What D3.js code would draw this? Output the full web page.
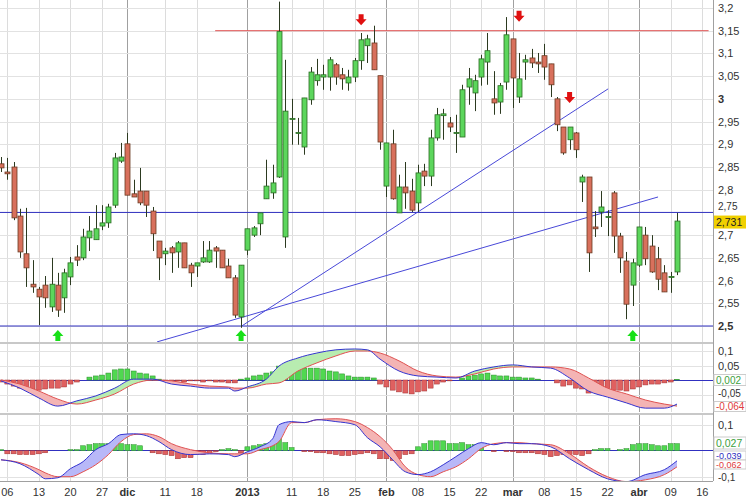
<!DOCTYPE html>
<html><head><meta charset="utf-8">
<script src="https://cdn.jsdelivr.net/npm/d3@7"></script>
<style>body{margin:0;background:#fff}svg{display:block;font-family:'Liberation Sans',Arial,sans-serif}</style>
</head><body>
<script>
// price candles, one per trading day from 2012-11-05
const opens  = [2.857,2.839,2.850,2.742,2.659,2.592,2.581,2.590,2.542,2.590,2.562,2.608,2.652,2.650,2.694,2.690,2.720,2.727,2.766,2.863,2.901,2.791,2.797,2.797,2.753,2.687,2.659,2.672,2.663,2.683,2.634,2.632,2.641,2.641,2.672,2.667,2.632,2.606,2.520,2.667,2.700,2.725,2.780,2.793,2.828,2.696,2.956,2.925,2.894,2.998,3.040,3.048,3.048,3.075,3.053,3.035,3.048,3.084,3.117,3.123,3.051,2.808,2.901,2.749,2.806,2.797,2.771,2.841,2.830,2.914,2.963,2.947,2.925,2.916,3.026,3.013,3.048,3.081,3.000,2.993,3.037,3.132,3.004,3.081,3.090,3.081,3.095,3.077,3.000,2.938,2.910,2.925,2.817,2.828,2.718,2.751,2.740,2.793,2.698,2.643,2.590,2.634,2.700,2.676,2.648,2.617,2.608,2.619]
const highs  = [2.872,2.870,2.861,2.758,2.760,2.645,2.586,2.610,2.650,2.617,2.626,2.652,2.678,2.714,2.742,2.766,2.766,2.769,2.881,2.903,2.925,2.822,2.848,2.797,2.762,2.687,2.672,2.676,2.687,2.683,2.639,2.639,2.687,2.687,2.676,2.667,2.648,2.612,2.634,2.714,2.720,2.749,2.866,2.855,3.214,3.086,3.000,2.958,3.002,3.070,3.088,3.075,3.092,3.079,3.068,3.064,3.090,3.145,3.141,3.161,3.051,2.903,2.932,2.833,2.861,2.824,2.855,2.857,2.932,2.980,2.978,2.960,2.965,3.031,3.068,3.053,3.097,3.145,3.061,3.035,3.180,3.132,3.101,3.097,3.110,3.101,3.121,3.077,3.004,2.938,2.938,2.927,2.833,2.828,2.753,2.797,2.755,2.797,2.705,2.663,2.648,2.718,2.718,2.700,2.674,2.634,2.619,2.749]
const lows   = [2.839,2.822,2.733,2.650,2.586,2.573,2.502,2.540,2.531,2.520,2.529,2.590,2.632,2.645,2.665,2.690,2.711,2.716,2.760,2.859,2.788,2.784,2.766,2.740,2.665,2.601,2.634,2.617,2.628,2.628,2.586,2.608,2.639,2.639,2.628,2.628,2.606,2.518,2.496,2.656,2.696,2.700,2.780,2.780,2.826,2.672,2.899,2.899,2.877,2.987,3.029,3.020,3.018,3.031,3.020,3.018,3.037,3.064,3.079,3.064,2.888,2.784,2.778,2.749,2.758,2.751,2.751,2.808,2.808,2.908,2.910,2.927,2.881,2.916,2.987,2.973,3.029,3.031,2.965,2.967,3.020,2.980,2.991,3.042,3.068,3.057,3.042,3.004,2.929,2.877,2.888,2.870,2.773,2.619,2.696,2.718,2.698,2.661,2.617,2.515,2.544,2.630,2.634,2.617,2.579,2.575,2.573,2.612]
const closes = [2.848,2.835,2.738,2.663,2.628,2.586,2.564,2.562,2.592,2.535,2.617,2.639,2.645,2.696,2.709,2.714,2.727,2.762,2.870,2.872,2.788,2.784,2.771,2.766,2.703,2.650,2.665,2.661,2.683,2.628,2.617,2.639,2.650,2.667,2.665,2.628,2.606,2.524,2.634,2.714,2.716,2.749,2.808,2.815,3.148,2.973,2.957,2.926,3.002,3.059,3.053,3.053,3.086,3.048,3.044,3.048,3.084,3.130,3.132,3.064,2.905,2.903,2.780,2.806,2.793,2.755,2.837,2.830,2.914,2.965,2.967,2.938,2.926,3.020,3.044,3.040,3.088,3.106,2.991,3.029,3.141,3.046,3.044,3.086,3.079,3.077,3.070,3.031,2.943,2.881,2.938,2.888,2.828,2.661,2.714,2.762,2.741,2.698,2.650,2.548,2.639,2.718,2.648,2.619,2.603,2.575,2.609,2.731]

const holidays = ['2012-12-25','2012-12-26','2013-01-01','2013-03-29','2013-04-01']
const tickDates = ['2012-11-06','2012-11-13','2012-11-20','2012-11-27','2012-12-03','2012-12-11','2012-12-18','2013-01-02','2013-01-11','2013-01-18','2013-01-25','2013-02-01','2013-02-08','2013-02-15','2013-02-22','2013-03-01','2013-03-08','2013-03-15','2013-03-22','2013-04-02','2013-04-09','2013-04-16']
const tickLabels = ['06','13','20','27','dic','11','18','2013','11','18','25','feb','08','15','22','mar','08','15','22','abr','09','16']
const monthTicks = ['dic','2013','feb','mar','abr']

const priceTicks = [3.2,3.15,3.1,3.05,3,2.95,2.9,2.85,2.8,2.75,2.7,2.65,2.6,2.55,2.5]
// drawn lines: [startDay, startPrice, endDay, endPrice]
const hLines = [[33.9,3.15,112,3.15,'#e05050'],[-1,2.75,113,2.75,'#3030c0'],[-1,2.5,113,2.5,'#3030c0']]
const trendLines = [[24.7,2.465,104,2.784],[38.1,2.5,96.1,3.022]]
const upArrows = [[9,2.491],[38,2.491],[100,2.491]]
const downArrows = [[57,3.162],[82,3.170],[90,2.991]]

// MACD panel
const macdHist = [-0.007,-0.014,-0.021,-0.028,-0.031,-0.031,-0.035,-0.031,-0.028,-0.028,-0.024,-0.014,-0.007,0,
 0.010,0.014,0.017,0.024,0.035,0.038,0.038,0.031,0.024,0.021,0.014,0.003,-0.003,
 -0.003,-0.003,-0.007,-0.003,-0.003,-0.007,-0.003,-0.007,-0.007,-0.010,-0.010,
 0.003,0.007,0.014,0.017,0.024,0.028,0.048,0.055,0.052,0.045,0.041,0.041,0.041,0.038,0.031,0.028,0.021,0.014,
 0.010,0.010,0.010,0.007,
 -0.014,-0.024,-0.035,-0.041,-0.045,-0.048,-0.041,-0.038,-0.028,-0.014,-0.007,-0.003,0,
 0.007,0.014,0.017,0.021,0.024,0.017,0.014,0.014,0.010,0.010,0.007,0.007,0.003,0,0,
 -0.010,-0.021,-0.017,-0.028,-0.031,-0.045,-0.041,-0.038,-0.035,-0.035,-0.035,-0.038,-0.031,-0.024,-0.017,-0.014,-0.014,-0.010,-0.007,0.002]
const macdDays = [0,3,6,9,12,15,18,21,24,27,30,33,36,37,39,42,44,47,50,53,56,58,60,63,66,69,72,75,78,81,84,87,90,93,96,99,102,105,107]
const macdLine = [-0.003,-0.028,-0.062,-0.090,-0.072,-0.055,-0.028,0.003,0.003,-0.014,-0.021,-0.028,-0.028,-0.038,-0.024,0.003,0.048,0.076,0.093,0.104,0.107,0.104,0.072,0.031,0.014,0.010,0.007,0.031,0.045,0.052,0.045,0.041,0.007,-0.038,-0.059,-0.079,-0.097,-0.097,-0.083]
const macdSignal = [0,-0.014,-0.038,-0.066,-0.083,-0.069,-0.048,-0.014,0,-0.003,-0.014,-0.021,-0.024,-0.028,-0.028,-0.014,-0.010,0.031,0.059,0.083,0.100,0.100,0.093,0.066,0.031,0.014,0.010,0.021,0.038,0.045,0.045,0.045,0.038,0.007,-0.028,-0.048,-0.069,-0.083,-0.090]

// second oscillator
const oscHist = [0.004,-0.012,-0.012,-0.015,-0.015,-0.015,-0.012,-0.008,0,0,0,0.004,0.004,
 0.019,0.023,0.027,0.027,0.027,0.027,0.027,0.023,0.023,0.019,
 0,-0.008,-0.012,-0.015,-0.019,-0.031,-0.027,-0.027,-0.015,-0.015,-0.012,-0.004,
 0.004,0.008,0.004,-0.008,
 0.015,0.019,0.023,0.027,0.023,0.046,0.031,0.012,0,
 -0.004,-0.004,-0.008,-0.008,-0.012,-0.015,-0.019,-0.019,-0.015,-0.012,-0.008,-0.012,
 -0.031,-0.031,-0.038,-0.031,-0.015,-0.012,
 0.015,0.027,0.038,0.038,0.038,0.027,0.027,0.031,0.023,0.023,0.019,0,
 -0.004,0,-0.004,-0.004,-0.008,-0.008,-0.008,-0.012,-0.015,-0.023,-0.019,-0.015,-0.015,-0.015,-0.019,-0.012,
 0.004,0.008,0.008,0,0.004,0.008,0.023,0.027,0.027,0.023,0.019,0.019,0.027,0.027]
const oscDays = [0,3,6,7,9,11,13,15,17,19,21,23,25,27,30,33,36,37,39,41,43,44,46,48,50,53,56,58,60,62,64,66,68,70,72,74,76,78,80,82,84,87,90,93,96,99,102,105,107]
const oscFast = [-0.035,-0.050,-0.092,-0.108,-0.104,-0.069,-0.042,0.004,0.027,0.062,0.065,0.058,0.035,0.004,-0.015,-0.012,-0.015,-0.023,-0.004,0.015,0.046,0.100,0.112,0.108,0.119,0.112,0.100,0.050,0.015,-0.035,-0.081,-0.092,-0.081,-0.054,-0.023,0.008,0.031,0.023,0.031,0.027,0.027,0.015,-0.031,-0.073,-0.108,-0.119,-0.092,-0.073,-0.039]
const oscSlow = [-0.035,-0.046,-0.073,-0.085,-0.100,-0.100,-0.081,-0.054,-0.015,0.035,0.062,0.065,0.054,0.027,0.004,-0.008,-0.012,-0.012,-0.012,0.004,0.019,0.035,0.108,0.108,0.119,0.123,0.112,0.089,0.054,0.004,-0.062,-0.092,-0.100,-0.081,-0.062,-0.031,0.008,0.027,0.031,0.031,0.027,0.023,-0.012,-0.062,-0.100,-0.119,-0.112,-0.092,-0.062]

// trading calendar
const fmt = d3.timeFormat('%Y-%m-%d')
const days = d3.timeDay.range(new Date(2012,10,5), new Date(2013,3,25))
    .filter(d => d.getDay() > 0 && d.getDay() < 6 && !holidays.includes(fmt(d))).map(fmt)

const W = 746, H = 500, plotR = 713
const svg = d3.select('body').append('svg').attr('width', W).attr('height', H)

const x = d3.scaleLinear().domain([0, 107]).range([1, 677])
const y = d3.scaleLinear().domain([2.5, 3.2]).range([326, 8])
const y2 = d3.scaleLinear().domain([0, 0.1]).range([380, 351])
const y3 = d3.scaleLinear().domain([0, 0.1]).range([450.7, 424.7])

const panels = [[0, 342], [344, 412], [415, 481]]

svg.append('defs').selectAll('clipPath').data(panels).join('clipPath')
    .attr('id', (d, i) => 'p' + i)
    .append('rect').attr('x', 0).attr('y', d => d[0]).attr('width', plotR).attr('height', d => d[1] - d[0])

// grid
const grid = svg.append('g')
panels.forEach(p => {
    tickDates.forEach((t, k) => {
        const xx = Math.round(x(days.indexOf(t))) + 0.5
        grid.append('line').attr('x1', xx).attr('x2', xx).attr('y1', p[0]).attr('y2', p[1])
            .attr('stroke', monthTicks.includes(tickLabels[k]) ? '#a0a0a0' : '#dcdcdc')
    })
})
priceTicks.forEach(v => grid.append('line').attr('x1', 0).attr('x2', plotR)
    .attr('y1', Math.round(y(v)) + 0.5).attr('y2', Math.round(y(v)) + 0.5).attr('stroke', '#e2e2e2'))
;[0.1, 0.05, -0.05].forEach(v => grid.append('line').attr('x1', 0).attr('x2', plotR)
    .attr('y1', Math.round(y2(v)) + 0.5).attr('y2', Math.round(y2(v)) + 0.5).attr('stroke', '#e2e2e2'))
;[0.1, -0.1].forEach(v => grid.append('line').attr('x1', 0).attr('x2', plotR)
    .attr('y1', Math.round(y3(v)) + 0.5).attr('y2', Math.round(y3(v)) + 0.5).attr('stroke', '#e2e2e2'))

// panel separators and right border
;[342, 413].forEach(v => svg.append('rect').attr('x', 0).attr('y', v).attr('width', plotR).attr('height', 2).attr('fill', '#c8c8c8'))
svg.append('line').attr('x1', plotR + 0.5).attr('x2', plotR + 0.5).attr('y1', 0).attr('y2', 481).attr('stroke', '#a0a0a0')
svg.append('line').attr('x1', 0).attr('x2', plotR).attr('y1', 481.5).attr('y2', 481.5).attr('stroke', '#a0a0a0')

// price panel
const pp = svg.append('g').attr('clip-path', 'url(#p0)')
hLines.forEach(l => pp.append('line').attr('x1', x(l[0])).attr('x2', x(l[2])).attr('y1', y(l[1])).attr('y2', y(l[3])).attr('stroke', l[4]))
trendLines.forEach(l => pp.append('line').attr('x1', x(l[0])).attr('x2', x(l[2])).attr('y1', y(l[1])).attr('y2', y(l[3])).attr('stroke', '#4848d8'))

const idx = d3.range(closes.length)
pp.selectAll('.wick').data(idx).join('line')
    .attr('x1', i => Math.round(x(i)) + 0.5).attr('x2', i => Math.round(x(i)) + 0.5)
    .attr('y1', i => y(highs[i])).attr('y2', i => y(lows[i])).attr('stroke', '#2c3a20')
pp.selectAll('.body').data(idx).join('rect')
    .attr('x', i => Math.round(x(i)) - 2)
    .attr('y', i => y(Math.max(opens[i], closes[i])))
    .attr('width', 5)
    .attr('height', i => Math.max(1, Math.abs(y(opens[i]) - y(closes[i]))))
    .attr('fill', i => closes[i] >= opens[i] ? '#5cd65c' : '#d8705c')
    .attr('stroke', i => closes[i] >= opens[i] ? '#2a6a22' : '#6a3a22').attr('stroke-width', 0.8)

const arrow = 'M-2.5,0 L2.5,0 L2.5,5 L5.5,5 L0,11 L-5.5,5 L-2.5,5 Z'
pp.selectAll('.down').data(downArrows).join('path')
    .attr('d', arrow).attr('transform', d => `translate(${x(d[0])},${y(d[1]) - 11})`).attr('fill', '#e01010')
svg.selectAll('.up').data(upArrows).join('path')
    .attr('d', arrow).attr('transform', d => `translate(${x(d[0])},${y(d[1]) + 11}) scale(1,-1)`).attr('fill', '#18e018')

// oscillator panels
function oscPanel(clip, ys, hist, daysIdx, a, b, upFill, zeroY) {
    const g = svg.append('g').attr('clip-path', `url(#${clip})`)
    g.append('line').attr('x1', 0).attr('x2', plotR).attr('y1', zeroY).attr('y2', zeroY).attr('stroke', '#3030c0')
    g.selectAll('rect').data(hist).join('rect')
        .attr('x', (v, i) => x(i) - 2.5).attr('width', 5)
        .attr('y', v => Math.min(ys(v), ys(0))).attr('height', v => Math.abs(ys(v) - ys(0)))
        .attr('fill', v => v >= 0 ? '#50d850' : '#e06060')
        .attr('stroke', v => v >= 0 ? '#2a8a2a' : '#a03030').attr('stroke-width', 0.5)
    const pts = daysIdx.map((d, k) => ({ d, a: a[k], b: b[k] }))
    const cid = clip + 'b'
    const top = ys.range()[0] - 200, bot = ys.range()[0] + 200
    const above = d3.area().x(p => x(p.d)).y0(top).y1(p => ys(p.b)).curve(d3.curveMonotoneX)
    const below = d3.area().x(p => x(p.d)).y0(bot).y1(p => ys(p.b)).curve(d3.curveMonotoneX)
    const defs = svg.select('defs')
    defs.append('clipPath').attr('id', cid + 'u').append('path').attr('d', above(pts))
    defs.append('clipPath').attr('id', cid + 'd').append('path').attr('d', below(pts))
    const band = d3.area().x(p => x(p.d)).y0(p => ys(p.a)).y1(p => ys(p.b)).curve(d3.curveMonotoneX)
    g.append('path').attr('d', band(pts)).attr('fill', upFill).attr('clip-path', `url(#${cid}u)`)
    g.append('path').attr('d', band(pts)).attr('fill', '#f4b4b4').attr('clip-path', `url(#${cid}d)`)
    const line = k => d3.line().x(p => x(p.d)).y(p => ys(p[k])).curve(d3.curveMonotoneX)
    g.append('path').attr('d', line('b')(pts)).attr('fill', 'none').attr('stroke', '#e05050')
    g.append('path').attr('d', line('a')(pts)).attr('fill', 'none').attr('stroke', '#3434d0')
}
oscPanel('p1', y2, macdHist, macdDays, macdLine, macdSignal, '#b8ecb0', 380.5)
oscPanel('p2', y3, oscHist, oscDays, oscFast, oscSlow, '#b8b8f8', 450.5)

// right axis labels
const ax = svg.append('g').attr('font-size', 11).attr('fill', '#333')
const comma = v => String(v).replace('.', ',')
priceTicks.filter(v => v !== 2.75).forEach(v => ax.append('text').attr('x', 718).attr('y', y(v) + 4).text(comma(v))
    .attr('font-weight', (v === 3 || v === 2.5) ? 'bold' : 'normal'))
;[0.1, 0.05].forEach(v => ax.append('text').attr('x', 718).attr('y', y2(v) + 4).text(comma(v)))
;[0.1].forEach(v => ax.append('text').attr('x', 718).attr('y', y3(v) + 4).text(comma(v)))
ax.append('text').attr('x', 718).attr('y', 397).text('-0,05').attr('font-size', 10)
ax.append('text').attr('x', 718).attr('y', 481).text('-0,1').attr('font-size', 10)

function valueTag(yy, txt, col, bg, h, fs) {
    ax.append('rect').attr('x', 714).attr('y', yy - h / 2).attr('width', 32).attr('height', h)
        .attr('fill', bg).attr('stroke', bg === '#fff' ? '#ccc' : 'none')
    ax.append('text').attr('x', 716).attr('y', yy + fs * 0.35).text(txt).attr('fill', col).attr('font-size', fs)
}
ax.append('text').attr('x', 718).attr('y', y(2.75) - 2).text('2,75').attr('font-size', 10)
valueTag(y(closes[closes.length - 1]) + 1, '2,731', '#222', '#f0d000', 13, 10.5)
valueTag(380, '0,002', '#40a040', '#fff', 11, 10)
valueTag(406.5, '-0,064', '#e04040', '#fff', 10, 10)
valueTag(443, '0,027', '#40a040', '#fff', 12, 10.5)
valueTag(455.5, '-0,039', '#3030c0', '#fff', 9, 9)
valueTag(464.5, '-0,062', '#e04040', '#fff', 9, 9)

// bottom axis
svg.append('g').attr('font-size', 11).attr('fill', '#333').selectAll('text').data(tickDates).join('text')
    .attr('x', t => x(days.indexOf(t))).attr('y', 496).attr('text-anchor', 'middle')
    .attr('font-weight', (t, k) => monthTicks.includes(tickLabels[k]) ? 'bold' : 'normal')
    .text((t, k) => tickLabels[k])
</script>
</body></html>
